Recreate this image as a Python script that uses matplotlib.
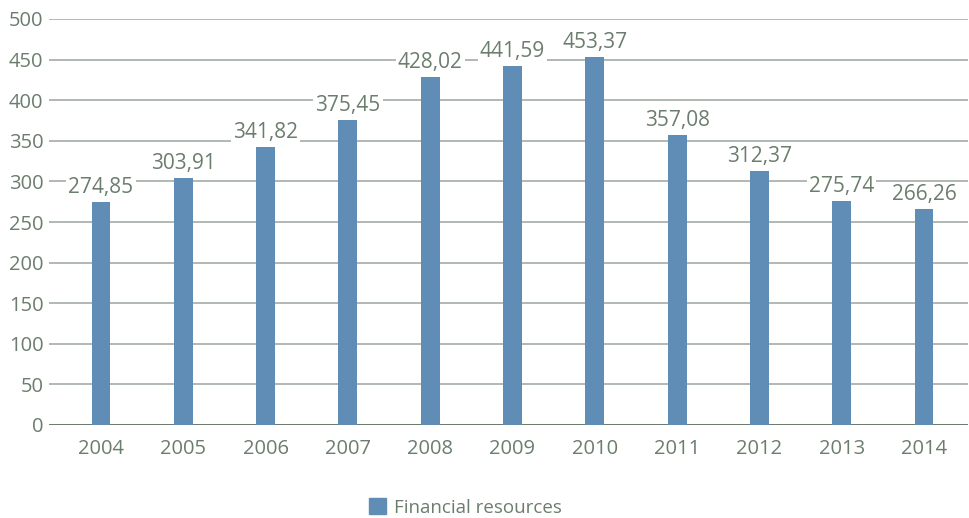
import matplotlib.pyplot as plt
from matplotlib.patches import Patch

years = ['2004', '2005', '2006', '2007', '2008', '2009', '2010', '2011', '2012', '2013', '2014']
values = [274.85, 303.91, 341.82, 375.45, 428.02, 441.59, 453.37, 357.08, 312.37, 275.74, 266.26]

bar_color = '#5f8db6'
text_color = '#6b7d6d'
grid_color = '#a4aca4'

plt.rcParams['font.family'] = ['Open Sans', 'DejaVu Sans']

fig = plt.figure(figsize=(9.7, 5.18), dpi=100)
ax = fig.add_axes([49 / 970, 1 - 425 / 518, 919 / 970, 406 / 518])

x = range(len(years))
ax.bar(x, values, width=0.23, color=bar_color, zorder=3)

# value labels sit on a white box so they cut through the grid lines
for i, v in enumerate(values):
    ax.text(i, v + 5, f'{v:.2f}'.replace('.', ','), ha='center', va='bottom',
            fontsize=15, color=text_color, zorder=4,
            bbox=dict(facecolor='white', edgecolor='none', pad=1.5))

ax.set_ylim(0, 500)
ax.set_yticks(range(0, 501, 50))
ax.set_xlim(-0.632, 10.535)
ax.set_xticks(list(x))
ax.set_xticklabels(years)
ax.yaxis.grid(True, color=grid_color, linewidth=1.2, zorder=0)
ax.axhline(0, color='#5e7262', linewidth=1.2, zorder=2)

for s in ax.spines.values():
    s.set_visible(False)
ax.tick_params(axis='both', length=0, labelsize=14.5, labelcolor=text_color)
ax.tick_params(axis='y', pad=4)
ax.tick_params(axis='x', pad=10)

handle = Patch(color=bar_color, label='Financial resources')
fig.legend(handles=[handle], loc='lower center', bbox_to_anchor=(0.48, -0.03),
           frameon=False, fontsize=13.5, labelcolor=text_color,
           handlelength=0.9, handleheight=0.9, handletextpad=0.4)

fig.savefig('out.png', dpi=100)
